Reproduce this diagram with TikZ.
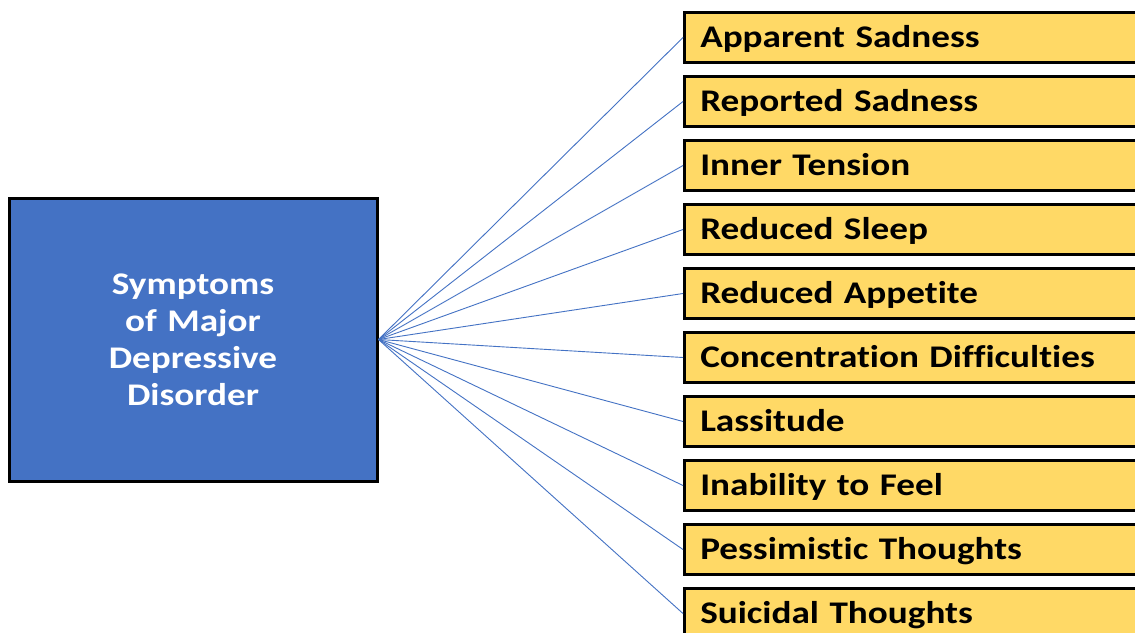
\documentclass[tikz,border=0pt]{standalone}
\usepackage{fontspec}
\setmainfont{Carlito}[FakeStretch=1.18,Ligatures=NoCommon]
\usetikzlibrary{positioning}
\definecolor{mddblue}{HTML}{4472C4}
\definecolor{symgold}{HTML}{FFD966}
\tikzset{
  mainbox/.style={
    rectangle,
    fill=mddblue,
    draw=black, line width=3pt,
    minimum width=368pt,
    minimum height=283pt,
    text=white,
    text width=240pt,
    align=center,
    font=\fontsize{31.5}{37}\selectfont\bfseries},
  symbox/.style={
    rectangle,
    fill=symgold,
    draw=black, line width=2.5pt,
    minimum width=480pt,
    minimum height=50pt,
    inner xsep=12pt,
    text width=448pt,
    text height=24pt,
    text depth=4pt,
    align=left,
    anchor=west,
    font=\fontsize{31.5}{36}\selectfont\bfseries},
  spoke/.style={draw=mddblue, line width=0.9pt},
}
\begin{document}
\begin{tikzpicture}[x=1pt,y=-1pt]
  \clip (0,0) rectangle (1135,632);
  \fill[white] (0,0) rectangle (1135,632);
  \node[mainbox] (mdd) at (193,339.5) {Symptoms\\of Major\\Depressive\\Disorder};
  \foreach \name [count=\i from 0] in {Apparent Sadness,Reported Sadness,Inner Tension,%
      Reduced Sleep,Reduced Appetite,Concentration Difficulties,Lassitude,%
      Inability to Feel,Pessimistic Thoughts,Suicidal Thoughts}{
    \node[symbox] (s\i) at (683,{37.5+64*\i}) {\name};
    \draw[spoke] (mdd.east) -- (s\i.west);
  }
\end{tikzpicture}
\end{document}
